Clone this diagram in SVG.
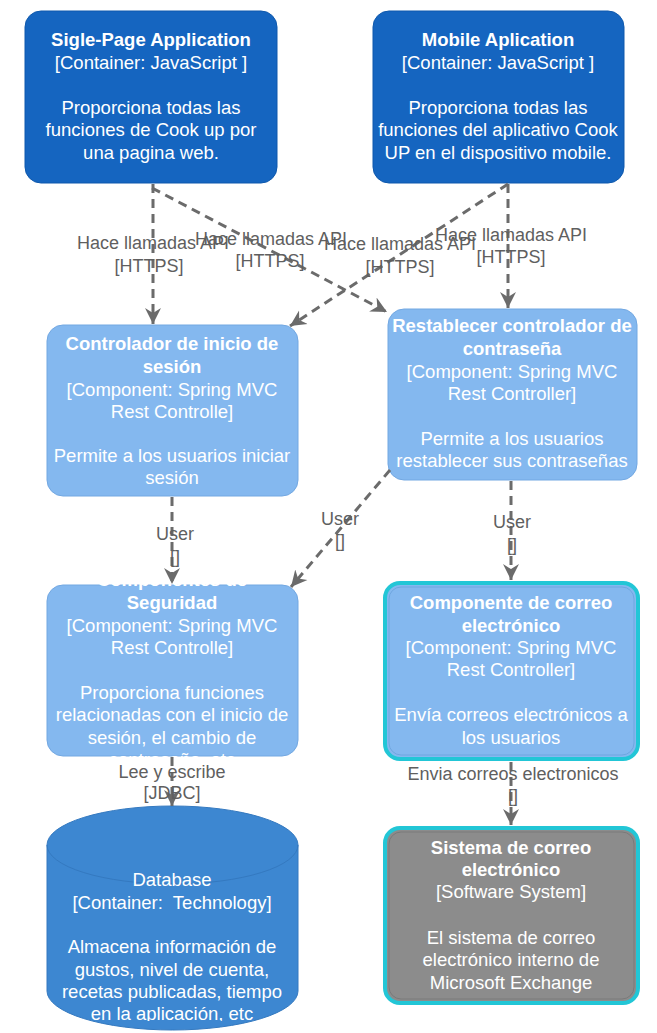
<svg xmlns="http://www.w3.org/2000/svg" width="657" height="1033" viewBox="0 0 657 1033">
<defs>
<style>
text{font-family:"Liberation Sans",Arial,sans-serif;}
.nt{fill:#ffffff;font-size:18.5px;text-anchor:middle;}
.b{font-weight:bold;}
.lbl{fill:#5f5f5f;font-size:18px;text-anchor:middle;}
.dark{fill:#1565c0;stroke:#0f59ad;stroke-width:1;}
.light{fill:#84b8ef;stroke:#73a8e2;stroke-width:1;}
.edge{fill:none;stroke:#6b6b6b;stroke-width:3;stroke-dasharray:9 6;}
</style>
<marker id="arr" markerUnits="userSpaceOnUse" markerWidth="18" markerHeight="18" refX="16" refY="8" orient="auto" viewBox="0 0 18 16">
<path d="M0,0 L16,8 L0,16 L5,8 z" fill="#6b6b6b"/>
</marker>
<clipPath id="clipSeg"><rect x="40" y="578" width="265" height="181"/></clipPath>
<clipPath id="clipDb"><rect x="40" y="800" width="265" height="221"/></clipPath>
</defs>
<rect width="657" height="1033" fill="#ffffff"/>

<g id="spa">
<rect class="dark" x="25" y="11" width="252" height="172" rx="16"/>
<text class="nt b" x="151" y="46">Sigle-Page Application</text>
<text class="nt" x="151" y="69">[Container: JavaScript ]</text>
<text class="nt" x="151" y="114">Proporciona todas las</text>
<text class="nt" x="151" y="136">funciones de Cook up por</text>
<text class="nt" x="151" y="159">una pagina web.</text>
</g>

<g id="mobile">
<rect class="dark" x="373" y="11" width="251" height="172" rx="16"/>
<text class="nt b" x="498" y="46">Mobile Aplication</text>
<text class="nt" x="498" y="69">[Container: JavaScript ]</text>
<text class="nt" x="498" y="114">Proporciona todas las</text>
<text class="nt" x="498" y="136">funciones del aplicativo Cook</text>
<text class="nt" x="498" y="159">UP en el dispositivo mobile.</text>
</g>

<g id="login">
<rect class="light" x="47" y="325" width="251" height="171" rx="16"/>
<text class="nt b" x="172" y="350">Controlador de inicio de</text>
<text class="nt b" x="172" y="373">sesión</text>
<text class="nt" x="172" y="396">[Component: Spring MVC</text>
<text class="nt" x="172" y="418">Rest Controlle]</text>
<text class="nt" x="172" y="462">Permite a los usuarios iniciar</text>
<text class="nt" x="172" y="484">sesión</text>
</g>

<g id="reset">
<rect class="light" x="388" y="309" width="249" height="171" rx="16"/>
<text class="nt b" x="512" y="332">Restablecer controlador de</text>
<text class="nt b" x="512" y="355">contraseña</text>
<text class="nt" x="512" y="378">[Component: Spring MVC</text>
<text class="nt" x="512" y="400">Rest Controller]</text>
<text class="nt" x="512" y="445">Permite a los usuarios</text>
<text class="nt" x="512" y="467">restablecer sus contraseñas</text>
</g>

<g id="security">
<rect class="light" x="47" y="585" width="251" height="171" rx="16"/>
<g clip-path="url(#clipSeg)">
<text class="nt b" x="172" y="586">Componentes de</text>
<text class="nt b" x="172" y="609">Seguridad</text>
<text class="nt" x="172" y="632">[Component: Spring MVC</text>
<text class="nt" x="172" y="654">Rest Controlle]</text>
<text class="nt" x="172" y="699">Proporciona funciones</text>
<text class="nt" x="172" y="721">relacionadas con el inicio de</text>
<text class="nt" x="172" y="744">sesión, el cambio de</text>
<text class="nt" x="172" y="766">contraseña, etc</text>
</g>
</g>

<g id="mailcomp">
<rect x="385" y="583" width="253" height="176" rx="15" fill="#84b8ef" stroke="#22c6d6" stroke-width="4"/>
<rect x="389" y="587" width="245" height="168" rx="12" fill="none" stroke="#6fa6e0" stroke-width="1"/>
<text class="nt b" x="511" y="609">Componente de correo</text>
<text class="nt b" x="511" y="632">electrónico</text>
<text class="nt" x="511" y="654">[Component: Spring MVC</text>
<text class="nt" x="511" y="676">Rest Controller]</text>
<text class="nt" x="511" y="721">Envía correos electrónicos a</text>
<text class="nt" x="511" y="744">los usuarios</text>
</g>

<g id="database">
<path d="M47,845 A125.5,39 0 0 1 298,845 L298,991 A125.5,39 0 0 1 47,991 Z" fill="#3d87d1" stroke="#3479c0" stroke-width="1"/>
<path d="M47,845 A125.5,39 0 0 0 298,845" fill="none" stroke="#3479c0" stroke-width="1"/>
<g clip-path="url(#clipDb)">
<text class="nt" x="172" y="886">Database</text>
<text class="nt" x="172" y="909">[Container:&#160; Technology]</text>
<text class="nt" x="172" y="953">Almacena información de</text>
<text class="nt" x="172" y="976">gustos, nivel de cuenta,</text>
<text class="nt" x="172" y="998">recetas publicadas, tiempo</text>
<text class="nt" x="172" y="1020">en la aplicación, etc</text>
</g>
</g>

<g id="mailsys">
<rect x="385" y="828" width="253" height="175" rx="15" fill="#8c8c8c" stroke="#22c6d6" stroke-width="4"/>
<rect x="389" y="832" width="245" height="167" rx="12" fill="none" stroke="#7a7a7a" stroke-width="1"/>
<text class="nt b" x="511" y="854">Sistema de correo</text>
<text class="nt b" x="511" y="876">electrónico</text>
<text class="nt" x="511" y="898">[Software System]</text>
<text class="nt" x="511" y="944">El sistema de correo</text>
<text class="nt" x="511" y="966">electrónico interno de</text>
<text class="nt" x="511" y="989">Microsoft Exchange</text>
</g>

<g id="connectors">
<path class="edge" d="M153,184 L153,324" marker-end="url(#arr)"/>
<path class="edge" d="M152,188 L387,312" marker-end="url(#arr)"/>
<path class="edge" d="M508,184 L290,326" marker-end="url(#arr)"/>
<path class="edge" d="M508,184 L508,308" marker-end="url(#arr)"/>
<path class="edge" d="M172,497 L172,584" marker-end="url(#arr)"/>
<path class="edge" d="M390,470 L291,587" marker-end="url(#arr)"/>
<path class="edge" d="M511,481 L511,580" marker-end="url(#arr)"/>
<path class="edge" d="M172,757 L172,806" marker-end="url(#arr)"/>
<path class="edge" d="M511,762 L511,825" marker-end="url(#arr)"/>
<text class="lbl" x="153" y="249">Hace llamadas API</text>
<text class="lbl" x="149" y="272">[HTTPS]</text>
<text class="lbl" x="271" y="245">Hace llamadas API</text>
<text class="lbl" x="270" y="267">[HTTPS]</text>
<text class="lbl" x="400" y="250">Hace llamadas API</text>
<text class="lbl" x="400" y="273">[HTTPS]</text>
<text class="lbl" x="511" y="241">Hace llamadas API</text>
<text class="lbl" x="511" y="263">[HTTPS]</text>
<text class="lbl" x="175" y="540">User</text>
<text class="lbl" x="175" y="563">[]</text>
<text class="lbl" x="340" y="525">User</text>
<text class="lbl" x="340" y="547">[]</text>
<text class="lbl" x="512" y="528">User</text>
<text class="lbl" x="512" y="551">[]</text>
<text class="lbl" x="172" y="778">Lee y escribe</text>
<text class="lbl" x="172" y="799">[JDBC]</text>
<text class="lbl" x="513" y="780">Envia correos electronicos</text>
<text class="lbl" x="513" y="802">[]</text>
</g>
</svg>
